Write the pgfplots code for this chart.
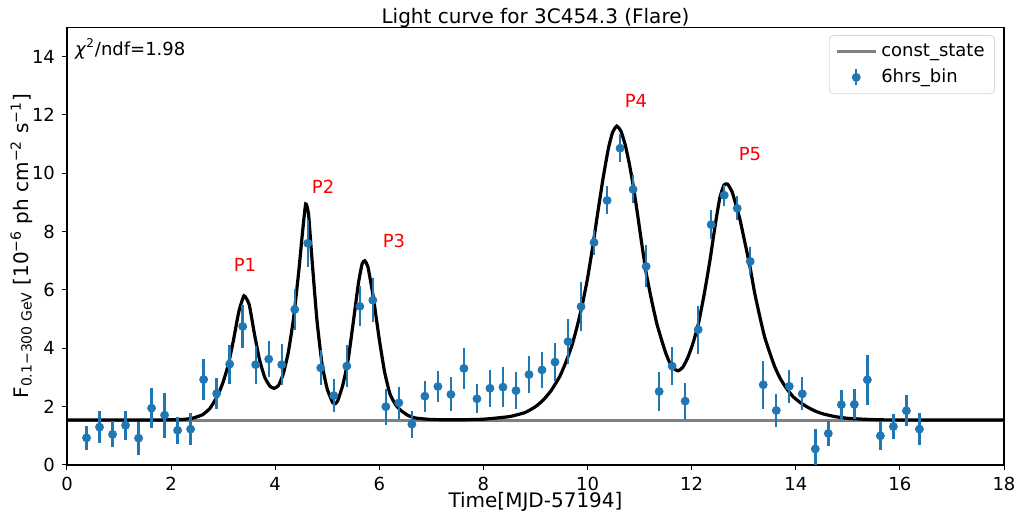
\documentclass[border=0pt]{standalone}
\usepackage{fontspec}
\setmainfont{DejaVu Sans}
\usepackage{pgfplots}
\pgfplotsset{compat=1.18}
\definecolor{mblue}{HTML}{1F77B4}
\definecolor{mgray}{HTML}{808080}
\newcommand{\fs}[1]{\fontsize{#1}{#1}\selectfont}
\begin{document}
\begin{tikzpicture}
\begin{axis}[
  scale only axis,
  width=468.5pt, height=218.75pt,
  xmin=0, xmax=18, ymin=0, ymax=15,
  xtick={0,2,...,18}, ytick={0,2,...,14},
  axis line style={line width=0.6pt},
  tick align=outside, tick pos=left,
  major tick length=2.5pt,
  tick style={line width=0.5pt, black},
  /pgf/number format/assume math mode=true,
  tick label style={font=\fs{9}},
  xlabel={Time[MJD-57194]},
  ylabel={F\textsubscript{0.1−300 GeV} [10\textsuperscript{−6} ph cm\textsuperscript{−2} s\textsuperscript{−1}]},
  xlabel style={font=\fs{10}, yshift=6pt},
  ylabel style={font=\fs{10}, yshift=-7pt},
  title={Light curve for 3C454.3 (Flare)},
  title style={font=\fs{10}, yshift=-9.5pt},
  legend style={at={(rel axis cs:1,1)}, anchor=north east, xshift=-4.5pt, yshift=-3.75pt,
    draw=black!15, rounded corners=2pt, font=\fs{9}, inner xsep=3pt, inner ysep=2pt,
    row sep=1pt},
  legend cell align=left,
]
\addplot[mgray, line width=1.5pt, forget plot] coordinates {(0,1.54) (18,1.54)};
\addplot[black, line width=1.6pt, smooth, tension=0.3, forget plot] coordinates {
(0,1.54) (1,1.54) (1.8,1.545) (2.2,1.56) (2.4,1.6) (2.6,1.72) (2.75,1.95) (2.9,2.4) (3.0,2.85) (3.1,3.45) (3.2,4.3) (3.3,5.25) (3.4,5.8) (3.5,5.5) (3.6,4.5) (3.7,3.6) (3.8,3.0) (3.9,2.7) (3.98,2.63) (4.06,2.72) (4.15,3.1) (4.25,3.85) (4.35,5.0) (4.45,6.6) (4.52,7.9) (4.585,8.95) (4.64,8.6) (4.7,7.2) (4.8,5.0) (4.9,3.45) (5.0,2.6) (5.1,2.15) (5.15,2.1) (5.2,2.2) (5.3,2.75) (5.4,3.6) (5.5,4.9) (5.6,6.25) (5.67,6.9) (5.72,7.0) (5.78,6.8) (5.88,5.8) (6.0,4.3) (6.1,3.2) (6.2,2.46) (6.3,2.1) (6.4,1.89) (6.55,1.7) (6.7,1.61) (7.0,1.56) (7.5,1.55) (8.0,1.57) (8.5,1.66) (8.8,1.8) (9.0,2.0) (9.15,2.23) (9.3,2.55) (9.47,3.05) (9.6,3.6) (9.7,4.1) (9.8,4.75) (9.9,5.5) (10.0,6.4) (10.1,7.5) (10.2,8.7) (10.3,9.85) (10.4,10.85) (10.48,11.4) (10.56,11.62) (10.64,11.45) (10.72,11.0) (10.8,10.35) (10.88,9.55) (10.96,8.6) (11.04,7.6) (11.13,6.55) (11.23,5.65) (11.33,4.85) (11.42,4.3) (11.5,3.85) (11.58,3.5) (11.66,3.3) (11.74,3.23) (11.83,3.35) (11.93,3.7) (12.03,4.2) (12.13,4.85) (12.24,5.85) (12.35,7.0) (12.45,8.2) (12.54,9.15) (12.62,9.6) (12.69,9.63) (12.78,9.35) (12.86,8.85) (12.93,8.4) (13.02,7.65) (13.12,6.8) (13.21,5.9) (13.31,5.08) (13.4,4.4) (13.5,3.85) (13.6,3.35) (13.7,2.97) (13.82,2.63) (13.95,2.34) (14.08,2.15) (14.21,2.0) (14.37,1.85) (14.53,1.75) (14.75,1.66) (15.0,1.6) (15.3,1.57) (15.6,1.55) (16,1.545) (18,1.54)
};
\addplot[mblue, only marks, mark=*, mark size=2pt, forget plot,
  error bars/.cd, y dir=both, y explicit, error mark=none,
  error bar style={line width=1.2pt, mblue}]
  table[x=x, y=y, y error=e] {
x y e
0.375 0.93 0.42
0.625 1.30 0.56
0.875 1.05 0.45
1.125 1.36 0.50
1.375 0.92 0.57
1.625 1.95 0.69
1.875 1.71 0.77
2.125 1.19 0.46
2.375 1.23 0.56
2.625 2.93 0.70
2.875 2.45 0.53
3.125 3.46 0.67
3.375 4.75 0.73
3.625 3.44 0.65
3.875 3.63 0.61
4.125 3.44 0.70
4.375 5.33 0.70
4.625 7.60 0.80
4.875 3.33 0.60
5.125 2.38 0.58
5.375 3.39 0.72
5.625 5.44 0.69
5.875 5.65 0.75
6.125 2.00 0.62
6.375 2.13 0.55
6.625 1.40 0.46
6.875 2.36 0.53
7.125 2.69 0.54
7.375 2.42 0.58
7.625 3.31 0.69
7.875 2.27 0.49
8.125 2.63 0.63
8.375 2.67 0.68
8.625 2.55 0.63
8.875 3.10 0.63
9.125 3.26 0.62
9.375 3.53 0.66
9.625 4.23 0.77
9.875 5.43 0.84
10.125 7.63 0.42
10.375 9.07 0.48
10.625 10.86 0.48
10.875 9.45 0.48
11.125 6.81 0.72
11.375 2.52 0.66
11.625 3.39 0.65
11.875 2.19 0.61
12.125 4.64 0.82
12.375 8.24 0.50
12.625 9.25 0.36
12.875 8.80 0.41
13.125 6.98 0.48
13.375 2.75 0.82
13.625 1.87 0.57
13.875 2.70 0.57
14.125 2.44 0.56
14.375 0.55 0.69
14.625 1.08 0.44
14.875 2.07 0.49
15.125 2.08 0.51
15.375 2.92 0.86
15.625 1.00 0.48
15.875 1.32 0.43
16.125 1.86 0.53
16.375 1.23 0.56
};
\addlegendimage{legend image code/.code={
  \draw[mgray, line width=1.5pt] (0pt,0pt) -- (19.5pt,0pt);}}
\addlegendentry{const\_state}
\addlegendimage{legend image code/.code={
  \draw[mblue, line width=1.2pt] (9.75pt,-4pt) -- (9.75pt,4pt);
  \fill[mblue] (9.75pt,0pt) circle (2pt);}}
\addlegendentry{6hrs\_bin}
\node[anchor=west, font=\fs{9}] at (axis cs:0.02,14.27) {\textit{χ}\textsuperscript{2}/ndf=1.98};
\node[red, font=\fs{9}] at (axis cs:3.42,6.86) {P1};
\node[red, font=\fs{9}] at (axis cs:4.92,9.53) {P2};
\node[red, font=\fs{9}] at (axis cs:6.28,7.68) {P3};
\node[red, font=\fs{9}] at (axis cs:10.93,12.48) {P4};
\node[red, font=\fs{9}] at (axis cs:13.12,10.66) {P5};
\end{axis}
\pgfresetboundingbox
\path (-33.5pt,-24.5pt) rectangle (475.5pt,232.5pt);
\end{tikzpicture}
\end{document}
